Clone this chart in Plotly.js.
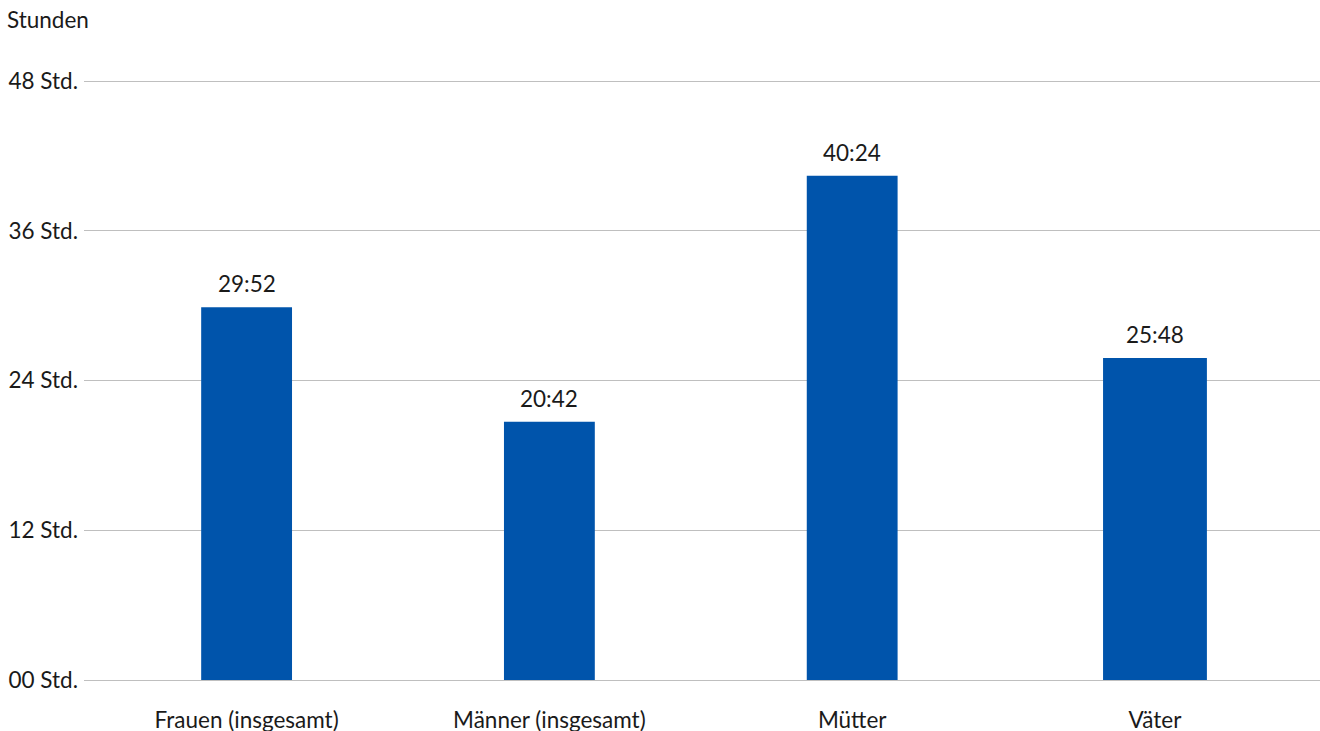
<!DOCTYPE html>
<html>
<head>
<meta charset="utf-8">
<script src="https://cdn.plot.ly/plotly-3.0.1.min.js"></script>
<style>
  html, body { margin: 0; padding: 0; background: #ffffff; }
  #chart { width: 1320px; height: 731px; }
</style>
</head>
<body>
<div id="chart"></div>
<script>
// Weekly hours, stated as h:mm
const categories = ["Frauen (insgesamt)", "Männer (insgesamt)", "Mütter", "Väter"];
const durations = ["29:52", "20:42", "40:24", "25:48"];
const barWidths = [0.30, 0.30, 0.30, 0.343];
const tickValues = [0, 12, 24, 36, 48];
const tickLabels = ["00 Std.", "12 Std.", "24 Std.", "36 Std.", "48 Std."];

// convert "h:mm" to decimal hours
const hours = durations.map(d => {
  const [h, m] = d.split(":").map(Number);
  return h + m / 60;
});

const font = { family: "Lato, 'Open Sans', sans-serif", size: 22.5, color: "#1a1a1a" };

const trace = {
  type: "bar",
  x: categories,
  y: hours,
  width: barWidths,
  marker: { color: "#0054ab", line: { width: 0 } },
  cliponaxis: false,
  hoverinfo: "skip"
};

// value labels above each bar
const valueLabels = categories.map((c, i) => ({
  x: c, y: hours[i],
  xref: "x", yref: "y",
  text: durations[i],
  showarrow: false,
  yanchor: "bottom",
  yshift: 8,
  font: font
}));

const layout = {
  width: 1320,
  height: 731,
  margin: { l: 84, r: 0, t: 79, b: 49 },
  paper_bgcolor: "#ffffff",
  plot_bgcolor: "#ffffff",
  font: font,
  showlegend: false,
  xaxis: {
    type: "category",
    range: [-0.537, 3.545],
    showgrid: false,
    zeroline: false,
    showline: false,
    ticks: "",
    tickfont: font,
    ticklabelstandoff: 22,
    fixedrange: true
  },
  yaxis: {
    range: [-0.16, 48.16],
    tickmode: "array",
    tickvals: tickValues,
    ticktext: tickLabels,
    showgrid: true,
    gridcolor: "#bfbfbf",
    gridwidth: 1,
    zeroline: false,
    showline: false,
    ticks: "",
    tickfont: font,
    ticklabelstandoff: 5,
    fixedrange: true
  },
  annotations: [{
    text: "Stunden",
    xref: "paper", yref: "paper",
    x: -79 / 1236, y: 1 + 59 / 603,
    xanchor: "left", yanchor: "middle",
    showarrow: false,
    font: font
  }].concat(valueLabels)
};

Plotly.newPlot("chart", [trace], layout, { displayModeBar: false, staticPlot: true });
</script>
</body>
</html>
